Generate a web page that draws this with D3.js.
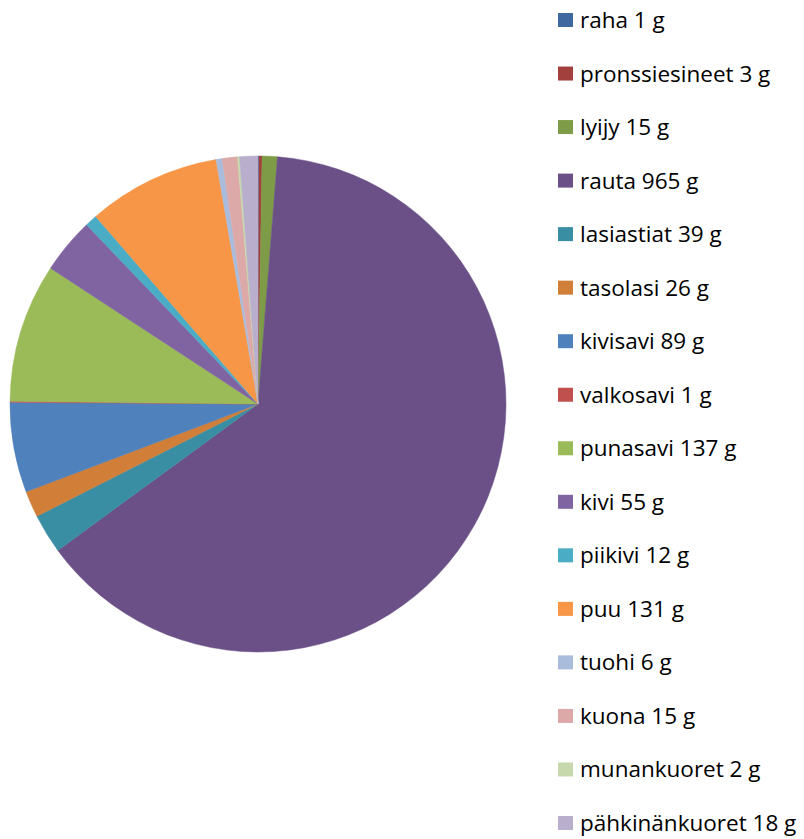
<!DOCTYPE html>
<html><head><meta charset="utf-8">
<script src="https://cdn.jsdelivr.net/npm/d3@7"></script>
<style>body{margin:0;background:#fff}svg{display:block}</style>
</head><body>
<script>
const categories = ["raha","pronssiesineet","lyijy","rauta","lasiastiat","tasolasi","kivisavi","valkosavi","punasavi","kivi","piikivi","puu","tuohi","kuona","munankuoret","pähkinänkuoret"];
const values = [1,3,15,965,39,26,89,1,137,55,12,131,6,15,2,18];
const unit = "g";
const colors = ["#3F68A0","#A2403D","#7E9B48","#6A5087","#3A8EA4","#D07E38","#4F81BD","#C0504D","#9BBB59","#8064A2","#4BACC6","#F79646","#A9BCDC","#DCA9A8","#C7D9AC","#B9AFCD"];

const W=804,H=839;
const svg=d3.select("body").append("svg").attr("width",W).attr("height",H);
const cx=258, cy=404, r=248;
const pie=d3.pie().sort(null).value(d=>d.v);
const data=categories.map((c,i)=>({c,v:values[i],i}));
const arc=d3.arc().innerRadius(0).outerRadius(r);
const g=svg.append("g").attr("transform",`translate(${cx},${cy})`);
g.selectAll("path").data(pie(data)).join("path")
  .attr("d",arc).attr("fill",d=>colors[d.data.i])
  .attr("stroke",d=>colors[d.data.i]).attr("stroke-width",0.5);

const ly=d3.scalePoint().domain(categories).range([20,823]);
const lg=svg.append("g");
const items=lg.selectAll("g").data(data).join("g").attr("transform",d=>`translate(0,${ly(d.c)})`);
items.append("rect").attr("x",558).attr("y",-7).attr("width",15).attr("height",14).attr("fill",d=>colors[d.i]);
items.append("text").attr("x",580).attr("y",8).attr("font-family","'Open Sans', sans-serif").attr("font-size",22.5).attr("fill","#000")
  .text(d=>`${d.c} ${d.v} ${unit}`);
</script>
</body></html>
